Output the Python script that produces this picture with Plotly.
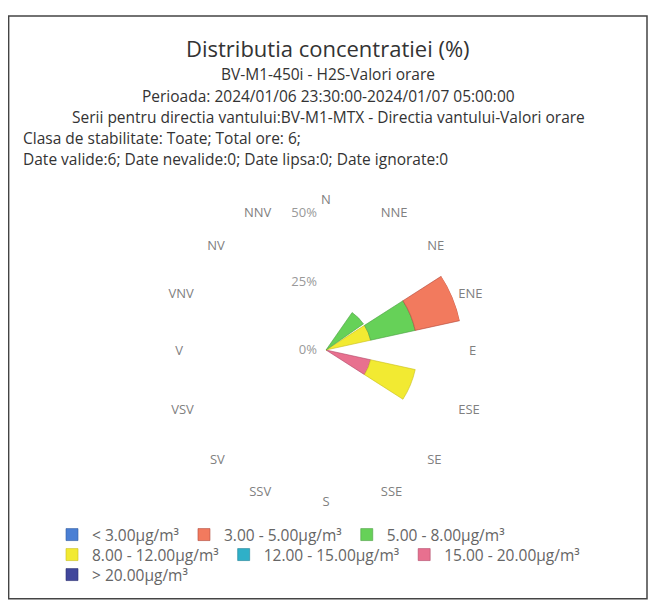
"""
Roza concentratiilor H2S pe directia vantului (barpolar Plotly)
"""

import plotly.graph_objects as go


# Directii vant (romana: V = vest)
directii = ["N", "NNE", "NE", "ENE", "E", "ESE", "SE", "SSE",
            "S", "SSV", "SV", "VSV", "V", "VNV", "NV", "NNV"]

# Clase de concentratie (legenda, ordine normala)
clase = ["< 3.00µg/m³", "3.00 - 5.00µg/m³", "5.00 - 8.00µg/m³",
         "8.00 - 12.00µg/m³", "12.00 - 15.00µg/m³", "15.00 - 20.00µg/m³",
         "> 20.00µg/m³"]
culori = ["#4a7fd4", "#f27a5e", "#66d158", "#f2ea32", "#2fb0c8", "#e8708f", "#41479c"]
contur = ["#2f5aa0", "#b0483a", "#4ea044", "#c8be20", "#1f8096", "#b04868", "#2a2f70"]
# pe ce rand din legenda apare fiecare clasa
rand_legenda = ["legend", "legend", "legend", "legend2", "legend2", "legend2", "legend3"]

# Procente pe directii (6 ore valide -> 16.67% pe ora)
p_sub3 = [0, 0, 0, 0, 0, 0, 0, 0, 0, 0, 0, 0, 0, 0, 0, 0]
p_3_5 = [0, 0, 0, 16.67, 0, 0, 0, 0, 0, 0, 0, 0, 0, 0, 0, 0]
p_5_8 = [0, 0, 16.67, 16.67, 0, 0, 0, 0, 0, 0, 0, 0, 0, 0, 0, 0]
p_8_12 = [0, 0, 0, 16.67, 0, 16.67, 0, 0, 0, 0, 0, 0, 0, 0, 0, 0]
p_12_15 = [0, 0, 0, 0, 0, 0, 0, 0, 0, 0, 0, 0, 0, 0, 0, 0]
p_15_20 = [0, 0, 0, 0, 0, 16.67, 0, 0, 0, 0, 0, 0, 0, 0, 0, 0]
p_peste20 = [0, 0, 0, 0, 0, 0, 0, 0, 0, 0, 0, 0, 0, 0, 0, 0]

serii = [p_sub3, p_3_5, p_5_8, p_8_12, p_12_15, p_15_20, p_peste20]

raze_tick = [0, 25, 50]
etichete_tick = ["0%", "25%", "50%"]

titlu = "Distributia concentratiei (%)"
linii_centrate = [
    "BV-M1-450i - H2S-Valori orare",
    "Perioada: 2024/01/06 23:30:00-2024/01/07 05:00:00",
    "Serii pentru directia vantului:BV-M1-MTX - Directia vantului-Valori orare",
]
linii_stanga = [
    "Clasa de stabilitate: Toate; Total ore: 6;",
    "Date valide:6; Date nevalide:0; Date lipsa:0; Date ignorate:0",
]

# pagina are margine de 8px in jurul figurii
OFF = 8
W, H = 657 - 2 * OFF, 608 - 2 * OFF
FONT = "Open Sans"


def px(x):
    return (x - OFF) / W


def py(y):
    return 1 - (y - OFF) / H


fig = go.Figure()

# concentratiile mari stau in interior -> trasee adaugate invers
for i in reversed(range(len(clase))):
    fig.add_trace(go.Barpolar(
        r=serii[i],
        theta=directii,
        width=0.9,
        name=clase[i],
        legend=rand_legenda[i],
        marker=dict(color=culori[i], line=dict(color=contur[i], width=0.6)),
    ))

leg = dict(orientation="h", traceorder="reversed", xanchor="left", yanchor="middle",
           font=dict(size=15.5, color="#666"), bgcolor="rgba(0,0,0,0)",
           borderwidth=0)

fig.update_layout(
    width=W, height=H,
    margin=dict(l=0, r=0, t=0, b=0),
    paper_bgcolor="white",
    plot_bgcolor="white",
    font=dict(family=FONT, color="#333"),
    showlegend=True,
    polar=dict(
        bgcolor="white",
        barmode="stack",
        domain=dict(x=[px(189), px(463)], y=[py(487), py(213)]),
        radialaxis=dict(
            range=[0, 50], tickmode="array", tickvals=raze_tick, ticktext=etichete_tick,
            angle=90, side="counterclockwise", tickangle=90,
            showline=False, showgrid=False,
            ticks="outside", ticklen=4, tickcolor="rgba(0,0,0,0)",
            tickfont=dict(size=13, color="#999"),
        ),
        angularaxis=dict(
            type="category", categoryarray=directii,
            direction="clockwise", rotation=90,
            showline=False, showgrid=False,
            ticks="outside", ticklen=3, tickcolor="rgba(0,0,0,0)",
            tickfont=dict(size=13, color="#808080"),
        ),
    ),
    legend=dict(leg, x=px(52), y=py(535)),
    legend2=dict(leg, x=px(52), y=py(555)),
    legend3=dict(leg, x=px(52), y=py(575)),
)

# titlu si subtitluri
fig.add_annotation(text=titlu, x=px(328), y=py(48), xref="paper", yref="paper",
                   xanchor="center", yanchor="middle", showarrow=False,
                   font=dict(size=22, color="#333"))
for k, t in enumerate(linii_centrate):
    fig.add_annotation(text=t, x=px(328), y=py(74 + k * 21.5),
                       xref="paper", yref="paper", xanchor="center", yanchor="middle",
                       showarrow=False, font=dict(size=15.5, color="#333"))
for k, t in enumerate(linii_stanga):
    fig.add_annotation(text=t, x=px(21), y=py(138 + k * 21),
                       xref="paper", yref="paper", xanchor="left", yanchor="middle",
                       showarrow=False, font=dict(size=15.5, color="#333"))

# chenarul graficului
fig.add_shape(type="rect", xref="paper", yref="paper",
              x0=0.001, x1=px(647), y0=0.002, y1=py(16),
              line=dict(color="#444", width=1.5))

fig.write_html("out.html")
